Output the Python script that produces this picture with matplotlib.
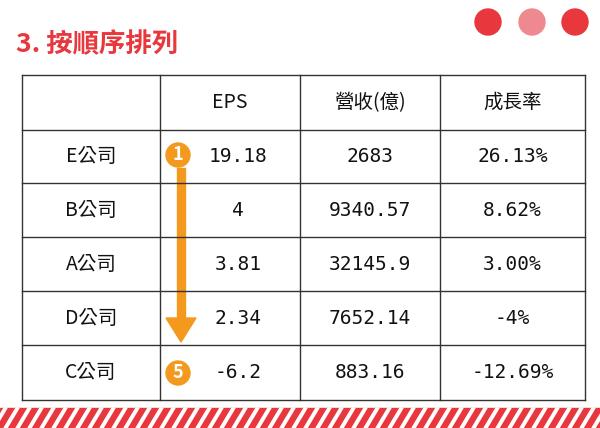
import matplotlib
matplotlib.use("Agg")
import matplotlib.pyplot as plt
from matplotlib.patches import Circle, Rectangle, Polygon

plt.rcParams['font.family'] = ['Noto Sans CJK TC', 'DejaVu Sans']

headers = ["", "EPS", "營收(億)", "成長率"]
companies = ["E公司", "B公司", "A公司", "D公司", "C公司"]
eps = ["19.18", "4", "3.81", "2.34", "-6.2"]
revenue = ["2683", "9340.57", "32145.9", "7652.14", "883.16"]
growth = ["26.13%", "8.62%", "3.00%", "-4%", "-12.69%"]

col_x = [22, 160, 300, 440, 585]
row_y = [75, 130, 183, 237, 291, 345, 400]

fig = plt.figure(figsize=(6, 4.28), dpi=100)
ax = fig.add_axes([0, 0, 1, 1])
ax.set_xlim(0, 600)
ax.set_ylim(428, 0)
ax.axis("off")

red = "#e8383d"
orange = "#f39a1e"

ax.text(16, 45, "3. 按順序排列", color=red, fontsize=19, fontweight="bold",
        va="center", ha="left")
for cx, c in zip([488, 532, 575], [red, "#ee8a8f", red]):
    ax.add_patch(Circle((cx, 22), 13, color=c))

# table grid
for x in col_x:
    ax.plot([x, x], [row_y[0], row_y[-1]], color="#333333", lw=1)
for y in row_y:
    ax.plot([col_x[0], col_x[-1]], [y, y], color="#333333", lw=1)

mono = ['DejaVu Sans Mono', 'Noto Sans CJK TC']
rows = [headers] + [[c, e, r, g] for c, e, r, g in zip(companies, eps, revenue, growth)]
for i, row in enumerate(rows):
    yc = (row_y[i] + row_y[i + 1]) / 2
    for j, txt in enumerate(row):
        xc = (col_x[j] + col_x[j + 1]) / 2
        if i > 0 and j == 1:
            xc += 8
        fam = mono if (i > 0 and j > 0) else ['Noto Sans CJK TC', 'DejaVu Sans']
        ax.text(xc, yc, txt, ha="center", va="center", fontsize=14,
                fontweight="medium", family=fam, color="#111111")

# orange arrow and markers
ax.add_patch(Rectangle((177, 168), 8, 150, color=orange))
ax.add_patch(Polygon([[166, 318], [196, 318], [181, 342]], color=orange))
for yc, lab in [(155, "1"), (373, "5")]:
    ax.add_patch(Circle((178, yc), 12, color=orange, zorder=3))
    ax.text(178, yc, lab, color="white", ha="center", va="center", fontsize=13,
            fontweight="bold", zorder=4)

# bottom stripes
ax.add_patch(Rectangle((0, 408), 600, 20, color=red))
for x0 in range(-20, 620, 12):
    ax.add_patch(Polygon([[x0, 428], [x0 + 3, 428], [x0 + 15, 408], [x0 + 12, 408]],
                         color="white"))

fig.savefig("out.png", dpi=100)
